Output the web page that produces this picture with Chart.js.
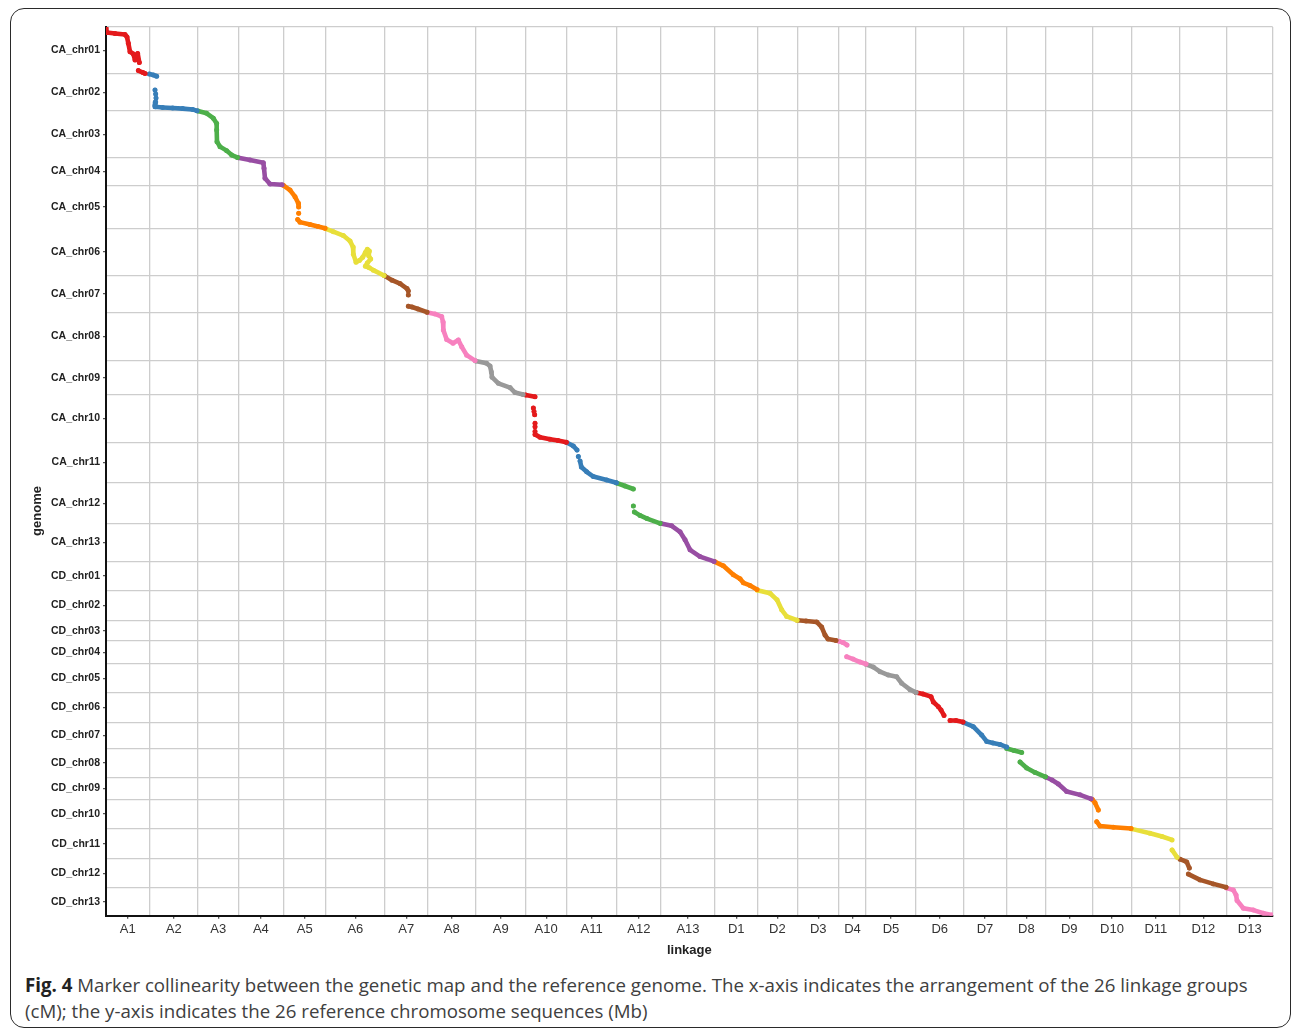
<!DOCTYPE html>
<html>
<head>
<meta charset="utf-8">
<script src="https://cdn.jsdelivr.net/npm/chart.js@4.4.1/dist/chart.umd.min.js"></script>
<style>
  body { margin: 0; background: #fff; }
  #frame { position: absolute; left: 10px; top: 8px; width: 1279px; height: 1018px;
           border: 1.5px solid #2a2a2a; border-radius: 14px; }
  #wrap { position: absolute; left: 0; top: 0; width: 1292px; height: 965px; }
  #caption { position: absolute; left: 25px; top: 972px; white-space: nowrap;
             font-family: 'Open Sans', sans-serif; font-size: 18.7px; line-height: 26px; color: #404040; }
  #caption b { color: #222; }
</style>
</head>
<body>
<div id="frame"></div>
<div id="wrap"><canvas id="grafico"></canvas></div>
<div id="caption"><b>Fig. 4</b> Marker collinearity between the genetic map and the reference genome. The x-axis indicates the arrangement of the 26 linkage groups<br>(cM); the y-axis indicates the 26 reference chromosome sequences (Mb)</div>
<script>
const grupos = ['A1','A2','A3','A4','A5','A6','A7','A8','A9','A10','A11','A12','A13',
	'D1','D2','D3','D4','D5','D6','D7','D8','D9','D10','D11','D12','D13'];

// comprimento de cada grupo de ligacao (cM)
const tamGrupos = [130,146,121,135,128,176,129,144,150,123,150,133,162,
	127,120,125,81,150,142,130,118,139,118,145,140,138];

const cromossomos = ['CA_chr01','CA_chr02','CA_chr03','CA_chr04','CA_chr05','CA_chr06','CA_chr07',
	'CA_chr08','CA_chr09','CA_chr10','CA_chr11','CA_chr12','CA_chr13',
	'CD_chr01','CD_chr02','CD_chr03','CD_chr04','CD_chr05','CD_chr06','CD_chr07',
	'CD_chr08','CD_chr09','CD_chr10','CD_chr11','CD_chr12','CD_chr13'];

// tamanho de cada cromossomo (Mb)
const tamCromossomos = [117.5,92.5,116.7,69,108,118,91.5,121,85,118.5,102,101,96,
	71,75,52,57.5,71,74.5,65.5,72,55,74,75,72,70];

// marcadores: [posicao no grupo (cM), posicao no cromossomo (Mb)], null = falha
const mA1 = [[0,2.5],[3,13.8],[27,16.2],[57,18.8],[63,25],[67,40.8],[72,61.8],[82,67.5],[87,82.5],[95,66],[100,89],null,[97,109],[111,114],[117,116]];
const mA2 = [[0,0],[12,2.5],[22,5.5],null,[17,40],null,[19,50],null,[20,60],null,[19,70],[17,78],[17,82],[40,83.5],[70,85],[100,86.5],[130,88.5],[143,92]];
const mA3 = [[0,0],[26,5.8],[46,18],[56,31],[56,47.5],[57,77],[66,89],[86,99],[101,110],[118,116]];
const mA4 = [[0,0],[35,5.8],[75,12.5],[77,26.5],[80,51.5],[95,65.8],[131,67.5]];
const mA5 = [[0,0],[20,12],[35,28.5],[45,45],[46,54],null,[46,70],null,[43,85.5],[50,92],[80,98],[104,103],[125,107.5]];
const mA6 = [[0,0.8],[22,8],[52,17.5],[72,31],[81,46],[82,64],[90,84],[100,80],[110,72],[118,60],[124,52],[130,56],[128,68],[134,76],[124,86],[118,94],[130,98],[142,104],[174,117.5]];
const mA7 = [[0,0.3],[22,11],[46,19.5],[67,32],[71,38],null,[71,48],null,[71,76],[82,78],[100,83],[127,91]];
const mA8 = [[0,0.5],[22,4],[42,10.5],[46,24],[47,44],[57,68],[76,77],[92,69],[102,86],[117,107],[142,120.5]];
const mA9 = [[0,0.3],[33,6.5],[43,13],[47,28],[49,41],[68,56.5],[103,67],[118,79.5],[142,84.5]];
const mA10 = [[0,0.5],[28,5],null,[23,33],null,[25,42],null,[27,50],null,[28,71],null,[28,80],null,[28,92],null,[28,99],[43,106],[73,111],[97,114.5],[122,118.5]];
const mA11 = [[0,0.8],[20,9.5],[31,19.5],null,[35,36],null,[40,47],[44,62],[60,74],[80,86],[120,94.5],[149,101.5]];
const mA12 = [[0,0],[25,7.5],[50,15],null,[50,57.5],null,[53,72.5],[70,81],[91,89],[130,100.8]];
const mA13 = [[0,0],[32,6],[57,21],[72,41],[87,66],[117,83],[159,95]];
const mD1 = [[0,0],[25,10],[55,32.5],[75,42.5],[85,52.5],[105,59],[126,69]];
const mD2 = [[0,0],[38,7.5],[59,24],[73,49],[88,65.5],[119,75]];
const mD3 = [[0,0],[26,1.8],[58,4.3],[73,17],[83,37],[92,47],[116,50.5]];
const mD4 = [[0,0.8],[12,3.8],[24,10],null,[23,39],[42,45],[63,52.5],[81,57.5]];
const mD5 = [[0,0.5],[22,7.5],[42,19],[67,27.5],[92,32],[107,48],[132,64],[150,71]];
const mD6 = [[0,0],[21,3.8],[45,10.5],[52,24],[67,35.5],[75,44],[84,57.5],null,[102,70],[120,70],[141,74]];
const mD7 = [[0,0.5],[30,11],[55,32],[70,48],[89,52],[110,55.5],[130,62]];
const mD8 = [[0,0],[22,5],[45,10],null,[40,34],[60,49],[85,60],[116,71]];
const mD9 = [[0,0],[18,6.8],[37,16.8],[62,35.5],[102,44],[135,54]];
const mD10 = [[0,0.5],[8,9],[18,27],null,[13,56],[23,67],[63,70],[116,73]];
const mD11 = [[0,0],[55,11],[91,19],[121,27.5],null,[121,52.5],[136,71]];
const mD12 = [[0,0.8],[20,7.5],[28,23],null,[25,38],[60,52.5],[100,62.5],[138,71]];
const mD13 = [[0,0.8],[20,6],[28,18],[31,32],[50,51.5],[80,56],[110,64],[136,68]];

const marcadores = [mA1,mA2,mA3,mA4,mA5,mA6,mA7,mA8,mA9,mA10,mA11,mA12,mA13,
	mD1,mD2,mD3,mD4,mD5,mD6,mD7,mD8,mD9,mD10,mD11,mD12,mD13];

const paleta = ['#e41a1c','#377eb8','#4daf4a','#984ea3','#ff7f00','#e8df3a','#a65628','#f781bf','#999999'];

// limites acumulados
function acumular(tams) {
	const lim = [0];
	tams.forEach(t => lim.push(lim[lim.length - 1] + t));
	return lim;
}
const limX = acumular(tamGrupos);
const limY = acumular(tamCromossomos);

// ticks intercalados: limite, meio, limite, meio, ..., limite
function ticksIntercalados(lim) {
	const t = [];
	for (let i = 0; i < lim.length; i++) {
		t.push({ value: lim[i] });
		if (i < lim.length - 1) t.push({ value: (lim[i] + lim[i + 1]) / 2 });
	}
	return t;
}

const datasets = marcadores.map((pts, i) => ({
	label: grupos[i],
	data: pts.map(p => p ? { x: limX[i] + p[0], y: limY[i] + p[1] } : { x: NaN, y: NaN }),
	showLine: true,
	spanGaps: false,
	borderColor: paleta[i % 9],
	backgroundColor: paleta[i % 9],
	borderWidth: 4.6,
	borderJoinStyle: 'round',
	borderCapStyle: 'round',
	pointRadius: 2.5,
	pointBorderWidth: 0,
	pointHoverRadius: 0,
	tension: 0,
}));

const tituloY = {
	id: 'tituloY',
	afterDraw(chart) {
		const ctx = chart.ctx;
		ctx.save();
		ctx.translate(37, 511);
		ctx.rotate(-Math.PI / 2);
		ctx.font = 'bold 13px "Liberation Sans", Arial, sans-serif';
		ctx.fillStyle = '#222';
		ctx.textAlign = 'center';
		ctx.textBaseline = 'middle';
		ctx.fillText('genome', 0, 0);
		ctx.restore();
	},
};

const corGrade = '#cdcdcd';

new Chart(document.getElementById('grafico'), {
	type: 'scatter',
	data: { datasets },
	options: {
		responsive: true,
		maintainAspectRatio: false,
		animation: false,
		layout: { padding: { left: 25, top: 27, right: 19.3, bottom: 6.5 } },
		plugins: {
			legend: { display: false },
			tooltip: { enabled: false },
		},
		scales: {
			x: {
				type: 'linear',
				min: 0,
				max: limX[limX.length - 1],
				afterBuildTicks: axis => { axis.ticks = ticksIntercalados(limX); },
				afterFit: axis => { axis.height = 42.8; },
				ticks: {
					autoSkip: false,
					maxRotation: 0,
					padding: 3,
					color: '#333',
					font: { family: '"Liberation Sans", Arial, sans-serif', size: 13 },
					callback: (v, i) => (i % 2 ? grupos[(i - 1) / 2] : ''),
				},
				grid: {
					color: c => (c.index % 2 ? 'rgba(0,0,0,0)' : corGrade),
					tickColor: c => (c.index % 2 ? '#555' : 'rgba(0,0,0,0)'),
					lineWidth: 1.3,
					tickLength: 3,
				},
				border: { display: true, color: '#111', width: 2 },
				title: {
					display: true,
					text: 'linkage',
					color: '#222',
					padding: { top: 0, bottom: 0 },
					font: { family: '"Liberation Sans", Arial, sans-serif', size: 13, weight: 'bold' },
				},
			},
			y: {
				type: 'linear',
				reverse: true,
				min: 0,
				max: limY[limY.length - 1],
				afterBuildTicks: axis => { axis.ticks = ticksIntercalados(limY); },
				afterFit: axis => { axis.width = 81; },
				ticks: {
					autoSkip: false,
					padding: 3,
					color: '#222',
					font: { family: '"Liberation Sans", Arial, sans-serif', size: 10.5, weight: 'bold' },
					callback: (v, i) => (i % 2 ? cromossomos[(i - 1) / 2] : ''),
				},
				grid: {
					color: c => (c.index % 2 ? 'rgba(0,0,0,0)' : corGrade),
					tickColor: c => (c.index % 2 ? '#555' : 'rgba(0,0,0,0)'),
					lineWidth: 1.3,
					tickLength: 3,
				},
				border: { display: true, color: '#111', width: 2 },
			},
		},
	},
	plugins: [tituloY],
});
</script>
</body>
</html>
